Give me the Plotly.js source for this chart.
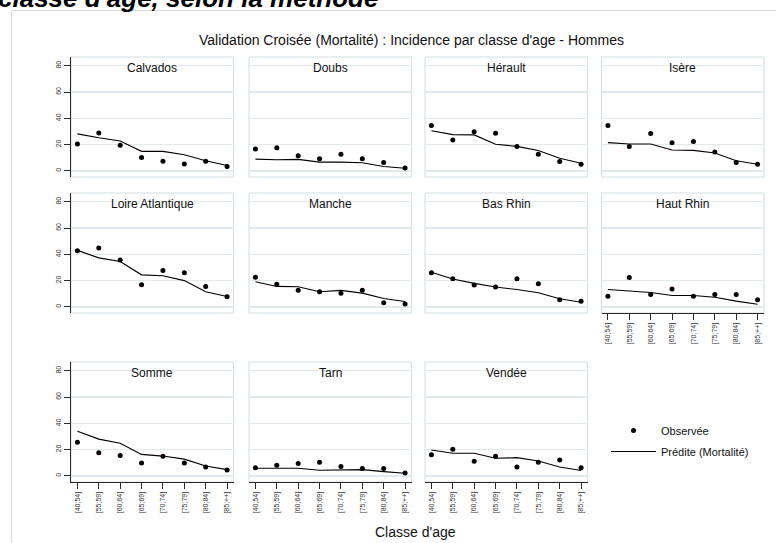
<!DOCTYPE html>
<html>
<head>
<meta charset="utf-8">
<script src="https://cdn.plot.ly/plotly-3.0.1.min.js"></script>
<style>
  html, body { margin: 0; padding: 0; background: #ffffff; }
  #chart { width: 776px; height: 543px; }
</style>
</head>
<body>
<div id="chart"></div>
<script>
// ---------- DATA ----------
const categories = ["[40;54]", "[55;59]", "[60;64]", "[65;69]", "[70;74]", "[75;79]", "[80;84]", "[85;++]"];
const departements = ["Calvados", "Doubs", "Hérault", "Isère", "Loire Atlantique", "Manche",
                      "Bas Rhin", "Haut Rhin", "Somme", "Tarn", "Vendée"];
const yTicks = [0, 20, 40, 60, 80];

const obsCalvados  = [20.5, 28.8, 19.5, 10.3, 7.3, 5.2, 7.4, 3.4];
const predCalvados = [28.2, 25.2, 22.8, 14.9, 14.9, 12.3, 7.7, 4.1];
const obsDoubs     = [16.7, 17.7, 11.5, 9.2, 12.6, 9.2, 6.4, 2.2];
const predDoubs    = [9.0, 8.5, 8.8, 6.7, 6.7, 6.2, 3.4, 2.1];
const obsHerault   = [34.6, 23.6, 29.7, 28.6, 18.5, 12.6, 7.2, 5.1];
const predHerault  = [30.5, 27.6, 27.4, 20.3, 18.7, 15.6, 9.7, 5.9];
const obsIsere     = [34.6, 18.5, 28.5, 21.5, 22.3, 14.4, 6.4, 5.1];
const predIsere    = [21.5, 20.5, 20.5, 15.9, 15.6, 13.6, 7.7, 5.1];
const obsLoire     = [42.8, 44.8, 35.6, 16.9, 27.7, 25.9, 15.6, 7.8];
const predLoire    = [43.0, 37.3, 34.6, 24.4, 23.7, 20.0, 11.6, 8.0];
const obsManche    = [22.6, 17.2, 12.6, 11.5, 10.5, 12.6, 3.1, 2.3];
const predManche   = [19.2, 15.6, 15.4, 11.5, 12.6, 10.5, 6.4, 4.1];
const obsBasRhin   = [25.9, 21.5, 16.7, 15.1, 21.5, 17.7, 5.4, 4.4];
const predBasRhin  = [26.4, 21.3, 17.9, 15.1, 13.3, 10.8, 6.2, 3.6];
const obsHautRhin  = [8.2, 22.3, 9.5, 13.6, 8.2, 9.5, 9.5, 5.4];
const predHautRhin = [13.3, 12.1, 11.0, 8.7, 8.7, 7.4, 4.4, 2.1];
const obsSomme     = [25.7, 17.6, 15.6, 9.8, 14.9, 9.8, 6.8, 4.5];
const predSomme    = [34.0, 28.0, 24.9, 16.4, 15.1, 12.8, 7.6, 4.8];
const obsTarn      = [6.3, 8.1, 9.4, 10.4, 7.1, 5.6, 5.6, 2.3];
const predTarn     = [5.8, 5.6, 5.8, 4.3, 4.8, 4.8, 3.3, 2.0];
const obsVendee    = [16.2, 20.3, 11.1, 14.9, 6.8, 10.4, 12.2, 6.3];
const predVendee   = [19.7, 17.2, 17.2, 13.4, 13.9, 11.4, 6.8, 4.1];

const observed  = [obsCalvados, obsDoubs, obsHerault, obsIsere, obsLoire, obsManche,
                   obsBasRhin, obsHautRhin, obsSomme, obsTarn, obsVendee];
const predicted = [predCalvados, predDoubs, predHerault, predIsere, predLoire, predManche,
                   predBasRhin, predHautRhin, predSomme, predTarn, predVendee];

// ---------- LAYOUT GEOMETRY (pixels) ----------
const W = 776, H = 543;
const colLeft = [71, 249, 425, 601.5];
const panelW = 162.5;
const rowTop = [57, 193, 362];
const panelH = 120;
const px = x => x / W;
const py = y => 1 - y / H;

const FONT = "Liberation Sans, Arial, Helvetica, sans-serif";
const gridColor = "#e3eaee";
const borderColor = "#d3dde4";
const axisColor = "#2a2a2a";

const xIdx = categories.map((c, i) => i + 1);
const traces = [];
const layout = {
  width: W, height: H, autosize: false,
  margin: {l: 0, r: 0, t: 0, b: 0},
  paper_bgcolor: "#ffffff",
  plot_bgcolor: "#ffffff",
  font: {family: FONT, color: "#111"},
  showlegend: true,
  legend: {
    x: px(606), y: py(416), xanchor: "left", yanchor: "top",
    font: {family: FONT, size: 11, color: "#111"},
    bgcolor: "rgba(0,0,0,0)", borderwidth: 0,
    itemwidth: 45, tracegroupgap: 2
  },
  annotations: [],
  shapes: []
};

// outer frame
layout.shapes.push({
  type: "rect", xref: "paper", yref: "paper",
  x0: px(11.5), x1: 1.02, y0: py(10.5), y1: -0.02,
  line: {color: "#d8d8d8", width: 1}, fillcolor: "rgba(0,0,0,0)", layer: "below"
});

departements.forEach((name, k) => {
  const row = Math.floor(k / 4), col = k % 4;
  const n = k + 1;
  const xa = n === 1 ? "x" : "x" + n;
  const ya = n === 1 ? "y" : "y" + n;
  const xKey = n === 1 ? "xaxis" : "xaxis" + n;
  const yKey = n === 1 ? "yaxis" : "yaxis" + n;
  const left = colLeft[col], top = rowTop[row];
  const isBottom = (row === 2) || (row === 1 && col === 3);
  const isLeft = col === 0;

  layout[xKey] = {
    domain: [px(left), px(left + panelW)],
    anchor: ya,
    range: [0.7, 8.3],
    tickmode: "array",
    tickvals: xIdx,
    ticktext: categories,
    showticklabels: isBottom,
    ticks: isBottom ? "outside" : "",
    ticklen: 6, tickwidth: 1, tickcolor: axisColor,
    tickangle: -90,
    tickfont: {family: FONT, size: 7, color: "#333"},
    showline: isBottom, linecolor: axisColor, linewidth: 1,
    showgrid: false, zeroline: false, fixedrange: true
  };
  layout[yKey] = {
    domain: [py(top + panelH), py(top)],
    anchor: xa,
    range: [-4.6, 86.6],
    tickmode: "array",
    tickvals: yTicks,
    ticktext: yTicks.map(String),
    showticklabels: isLeft,
    ticks: isLeft ? "outside" : "",
    ticklen: 6, tickwidth: 1, tickcolor: axisColor,
    tickangle: -90,
    tickfont: {family: FONT, size: 7, color: "#333"},
    showline: isLeft, linecolor: axisColor, linewidth: 1,
    showgrid: true, gridcolor: gridColor, gridwidth: 1.5,
    zeroline: false, fixedrange: true
  };

  // panel border
  layout.shapes.push({
    type: "rect", xref: "paper", yref: "paper",
    x0: px(left), x1: px(left + panelW), y0: py(top + panelH), y1: py(top),
    line: {color: borderColor, width: 1}, fillcolor: "rgba(0,0,0,0)", layer: "below"
  });

  // panel title
  layout.annotations.push({
    text: name, xref: "paper", yref: "paper",
    x: px(left + panelW / 2), y: py(top + 11), xanchor: "center", yanchor: "middle",
    showarrow: false, font: {family: FONT, size: 12, color: "#111"}
  });

  traces.push({
    type: "scatter", mode: "markers", name: "Observée",
    x: xIdx, y: observed[k], xaxis: xa, yaxis: ya,
    marker: {color: "#000", size: 5},
    legendgroup: "obs", showlegend: k === 0, hoverinfo: "skip"
  });
  traces.push({
    type: "scatter", mode: "lines", name: "Prédite (Mortalité)",
    x: xIdx, y: predicted[k], xaxis: xa, yaxis: ya,
    line: {color: "#000", width: 1.1},
    legendgroup: "pred", showlegend: k === 0, hoverinfo: "skip"
  });
});

// main title
layout.annotations.push({
  text: "Validation Croisée (Mortalité) : Incidence par classe d'age - Hommes",
  xref: "paper", yref: "paper", x: px(411.5), y: py(40),
  xanchor: "center", yanchor: "middle", showarrow: false,
  font: {family: FONT, size: 14, color: "#111"}
});
// x-axis common title
layout.annotations.push({
  text: "Classe d'age",
  xref: "paper", yref: "paper", x: px(415), y: py(532),
  xanchor: "center", yanchor: "middle", showarrow: false,
  font: {family: FONT, size: 14, color: "#111"}
});
// cut heading of the surrounding document
layout.annotations.push({
  text: "<b><i>classe d'age, selon la méthode</i></b>",
  xref: "paper", yref: "paper", x: px(380), y: py(15),
  xanchor: "right", yanchor: "bottom", showarrow: false,
  font: {family: FONT, size: 26, color: "#000"}
});

Plotly.newPlot("chart", traces, layout, {staticPlot: true, displayModeBar: false});
</script>
</body>
</html>
